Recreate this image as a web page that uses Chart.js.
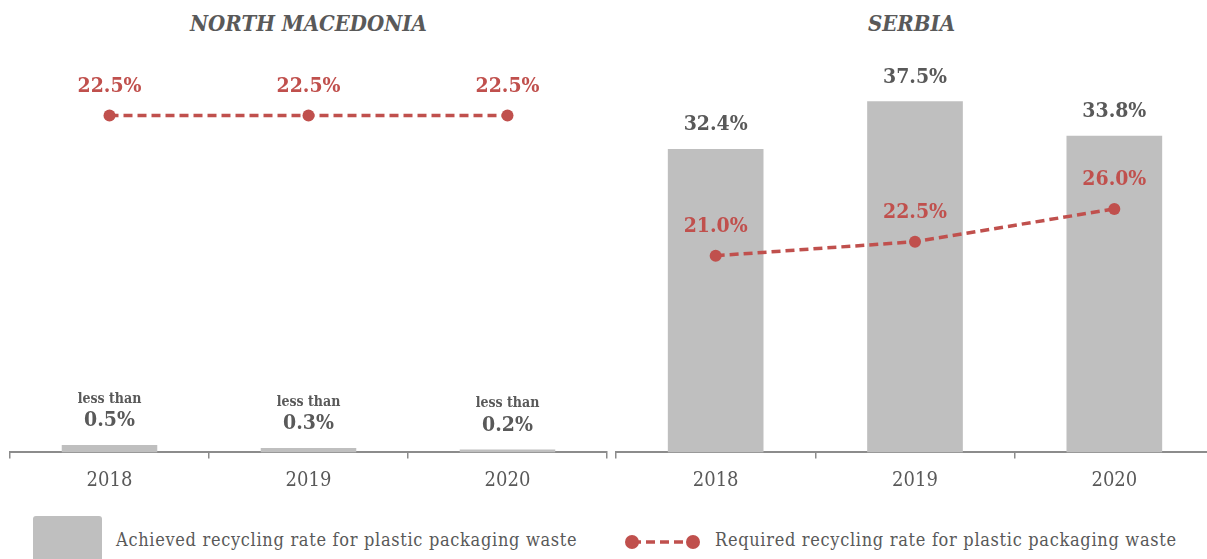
<!DOCTYPE html>
<html>
<head>
<meta charset="utf-8">
<script src="https://cdn.jsdelivr.net/npm/chart.js@4.4.1/dist/chart.umd.min.js"></script>
<style>
  body { margin: 0; background: #fff; width: 1207px; height: 559px; overflow: hidden; position: relative; }
  .title { position: absolute; top: 10px; font: italic bold 22px 'DejaVu Serif Condensed', 'DejaVu Serif', serif; color: #595959; text-align: center; }
  .box { position: absolute; top: 0; height: 504px; }
  .legend { position: absolute; top: 516px; left: 0; width: 1207px; height: 43px; font: 18px 'DejaVu Serif Condensed', 'DejaVu Serif', serif; letter-spacing: 0.7px; color: #595959; }
  .legend .swatch { position: absolute; left: 33px; top: 0; width: 69px; height: 50px; background: #bfbfbf; border-radius: 3px; }
  .legend span { position: absolute; top: 13px; white-space: nowrap; }
  .legend svg { position: absolute; left: 622px; top: 15px; }
</style>
</head>
<body>
<div class="title" style="left:10px;width:597px">NORTH MACEDONIA</div>
<div class="title" style="left:616px;width:591px">SERBIA</div>
<div class="box" style="left:0;width:620px"><canvas id="mk"></canvas></div>
<div class="box" style="left:606px;width:614px"><canvas id="rs"></canvas></div>
<div class="legend">
  <div class="swatch"></div>
  <span style="left:116px">Achieved recycling rate for plastic packaging waste</span>
  <svg width="82" height="22"><line x1="10" y1="11" x2="71" y2="11" stroke="#c0504d" stroke-width="3.5" stroke-dasharray="9,5"/><circle cx="10" cy="11" r="7" fill="#c0504d"/><circle cx="71" cy="11" r="7" fill="#c0504d"/></svg>
  <span style="left:715px">Required recycling rate for plastic packaging waste</span>
</div>
<script>
const years = ['2018', '2019', '2020']

// North Macedonia
const mkAchieved = [0.5, 0.3, 0.2]
const mkRequired = [22.5, 22.5, 22.5]
const mkPrefix = ['less than', 'less than', 'less than']

// Serbia
const rsAchieved = [32.4, 37.5, 33.8]
const rsRequired = [21.0, 22.5, 26.0]
const rsPrefix = ['', '', '']

const grey = '#bfbfbf'
const red = '#c0504d'
const text = '#595959'
const serif = "'DejaVu Serif Condensed', 'DejaVu Serif', serif"

// draws the value labels above bars and points
const valueLabels = {
  id: 'valueLabels',
  afterDatasetsDraw(chart, args, opts) {
    const ctx = chart.ctx
    ctx.save()
    ctx.textAlign = 'center'
    ctx.textBaseline = 'middle'
    chart.data.datasets.forEach((ds, i) => {
      const meta = chart.getDatasetMeta(i)
      meta.data.forEach((el, j) => {
        const label = ds.data[j].toFixed(1) + '%'
        if (ds.type === 'line') {
          ctx.fillStyle = red
          ctx.font = "bold 21px " + serif
          ctx.fillText(label, el.x, el.y - 29)
        } else {
          ctx.fillStyle = text
          ctx.font = "bold 21px " + serif
          ctx.fillText(label, el.x, el.y - 24)
          if (opts.prefix && opts.prefix[j]) {
            ctx.font = "bold 14px " + serif
            ctx.fillText(opts.prefix[j], el.x, el.y - 46)
          }
        }
      })
    })
    ctx.restore()
  }
}

function makeChart(id, achieved, required, prefix, yMax, pad) {
  return new Chart(document.getElementById(id), {
    type: 'bar',
    data: {
      labels: years,
      datasets: [{
        type: 'line',
        label: 'Required recycling rate for plastic packaging waste',
        data: required,
        borderColor: red,
        backgroundColor: red,
        borderWidth: 3.5,
        borderDash: [9, 5],
        pointRadius: 6,
        pointBorderWidth: 0,
        pointBackgroundColor: red,
        tension: 0,
        order: 0
      }, {
        label: 'Achieved recycling rate for plastic packaging waste',
        data: achieved,
        backgroundColor: grey,
        categoryPercentage: 1,
        barPercentage: 0.48,
        order: 1
      }]
    },
    options: {
      responsive: true,
      maintainAspectRatio: false,
      animation: false,
      layout: { padding: pad },
      plugins: {
        legend: { display: false },
        tooltip: { enabled: false },
        valueLabels: { prefix: prefix }
      },
      scales: {
        x: {
          offset: true,
          grid: { display: true, drawOnChartArea: false, tickLength: 6, color: '#8c8c8c', lineWidth: 1.5 },
          border: { color: '#8c8c8c', width: 2 },
          ticks: { color: text, padding: 10, font: { family: serif, size: 20 } }
        },
        y: {
          display: false,
          min: 0,
          max: yMax
        }
      }
    },
    plugins: [valueLabels]
  })
}

makeChart('mk', mkAchieved, mkRequired, mkPrefix, 26.2, { top: 60, left: 10, right: 13, bottom: 1.6 })
makeChart('rs', rsAchieved, rsRequired, rsPrefix, 41.9, { top: 60, left: 10, right: 0, bottom: 1.6 })
</script>
</body>
</html>
